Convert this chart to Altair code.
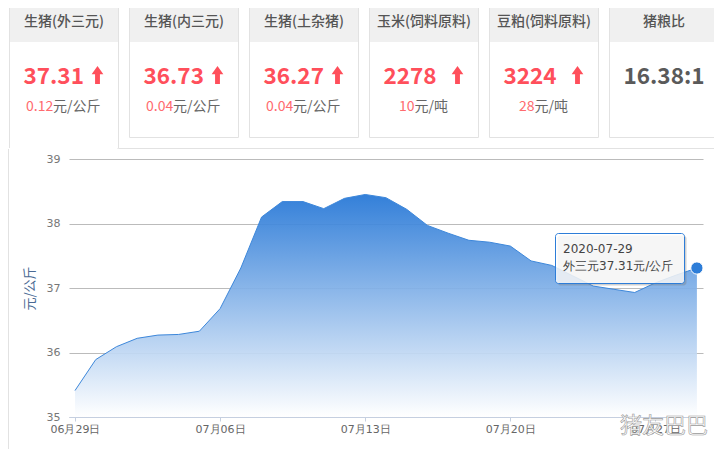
import altair as alt
import pandas as pd

FONT = "Noto Sans CJK SC"
dates = ["06-29","06-30","07-01","07-02","07-03","07-04","07-05","07-06","07-07","07-08","07-09","07-10",
         "07-11","07-12","07-13","07-14","07-15","07-16","07-17","07-18","07-19","07-20","07-21","07-22",
         "07-23","07-24","07-25","07-26","07-27","07-28","07-29"]
prices = [35.41,35.89,36.09,36.22,36.27,36.28,36.33,36.68,37.31,38.10,38.34,38.34,
          38.23,38.39,38.45,38.40,38.22,37.97,37.85,37.74,37.71,37.65,37.42,37.35,
          37.19,37.03,36.98,36.93,37.08,37.20,37.31]
tick_labels = ["06月29日","07月06日","07月13日","07月20日","07月27日"]
card_titles = ["生猪(外三元)","生猪(内三元)","生猪(土杂猪)","玉米(饲料原料)","豆粕(饲料原料)","猪粮比"]
card_values = ["37.31","36.73","36.27","2278","3224","16.38:1"]
card_changes = ["0.12","0.04","0.04","10","28",""]
card_units = ["元/公斤","元/公斤","元/公斤","元/吨","元/吨",""]
tooltip_lines = ["2020-07-29","外三元37.31元/公斤"]
watermark = "猪友巴巴"

OX, OY = 69, 159
one = alt.Data(values=[{"a": 1}])

def px(v): return alt.value(v - OX)
def py(v): return alt.value(v - OY)

def text(s, x, y, size, color, align="left", weight="normal", font=FONT, **kw):
    return alt.Chart(one).mark_text(text=s, font=font, fontSize=size, color=color, align=align,
                                    baseline="middle", fontWeight=weight, **kw).encode(x=px(x), y=py(y))

def rect(x0, x1, y0, y1, **kw):
    return alt.Chart(one).mark_rect(**kw).encode(x=px(x0), x2=px(x1), y=py(y0), y2=py(y1))

def hline(x0, x1, y, color="#e2e2e2"):
    return alt.Chart(one).mark_rule(color=color, strokeWidth=1).encode(x=px(x0), x2=px(x1), y=py(y))

def vline(x, y0, y1, color="#e2e2e2"):
    return alt.Chart(one).mark_rule(color=color, strokeWidth=1).encode(x=px(x), y=py(y0), y2=py(y1))

ARROW = "M0,-1 L0.65,-0.08 L0.27,-0.08 L0.27,1 L-0.27,1 L-0.27,-0.08 L-0.65,-0.08 Z"
RED, GREY = "#ff4f5b", "#5a5a5a"

layers = []
layers += [hline(118.5, 722, 148.5), vline(8.5, 149, 451)]

for i, t in enumerate(card_titles):
    left = 9.5 + 120 * i
    right = left + 109
    bottom = 148.5 if i == 0 else 137.5
    cx = left + 54.5
    layers.append(rect(left, right, -2, bottom, fill="white", stroke="#e2e2e2", strokeWidth=1))
    if i == 0:
        layers.append(hline(left - 0.5, right - 1, 148.5, "#ffffff"))
    layers.append(rect(left + 0.5, right - 0.5, -2, 42, fill="#f0f0f0"))
    layers.append(text(t, cx, 22, 14, "#555555", "center", 500))
    if i < 5:
        layers.append(text(card_values[i], left + 14, 77, 22.5, RED, "left", "bold"))
        layers.append(alt.Chart(one).mark_point(shape=ARROW, filled=True, fill=RED, opacity=1, size=324, strokeWidth=0)
                      .encode(x=px(left + 88), y=py(75)))
        if i < 3:
            layers.append(text(card_changes[i], left + 16.5, 107, 14, "#ff6b6f"))
            layers.append(text(card_units[i], left + 43.5, 107, 14, "#666666"))
        else:
            layers.append(text(card_changes[i], left + 29.5, 107, 14, "#ff6b6f"))
            layers.append(text(card_units[i], left + 45, 107, 14, "#666666"))
    else:
        layers.append(text(card_values[i], cx, 77, 22.5, GREY, "center", "bold"))

df = pd.DataFrame({"idx": range(len(dates)), "date": dates, "price": prices})
x_enc = alt.X("idx:Q",
              scale=alt.Scale(domain=[-0.289, 30.294], nice=False, zero=False),
              axis=alt.Axis(values=[0, 7, 14, 21, 28], title=None, grid=False,
                            labelExpr="['" + "','".join(tick_labels) + "'][datum.value/7]",
                            labelFont="DejaVu Sans", labelFontSize=11, labelColor="#666666", labelPadding=2,
                            labelFlush=False, labelOverlap=False,
                            domainColor="#c5cfe0", tickColor="#c5cfe0", tickSize=4))
y_enc = alt.Y("price:Q",
              scale=alt.Scale(domain=[35, 39], nice=False, zero=False),
              axis=alt.Axis(values=[35, 36, 37, 38, 39], title="元/公斤", grid=True, gridColor="#bbbbbb", gridWidth=1,
                            domain=False, ticks=False, labelPadding=9, labelFont="DejaVu Sans", labelFontSize=11,
                            labelColor="#777777", titleFont=FONT, titleFontSize=13, titleFontWeight="normal",
                            titleColor="#4a6a94", titleX=-33, titleY=129))

gradient = alt.Gradient(gradient="linear", x1=1, x2=1, y1=1, y2=0,
                        stops=[alt.GradientStop(color="#ffffff", offset=0),
                               alt.GradientStop(color="#2476d6", offset=1)])
base = alt.Chart(df)
area = base.mark_area(fill=gradient, opacity=0.93, line=False).encode(x=x_enc, y=y_enc, y2=alt.Y2(datum=35))
line = base.mark_line(color="#3d87da", strokeWidth=1).encode(x=x_enc, y=y_enc)
last = base.transform_filter("datum.idx == 30").mark_point(filled=True, fill="#2d7dd8", stroke="white", strokeWidth=1,
                                                            opacity=1, size=150).encode(x=x_enc, y=y_enc)
layers = [area, line, last] + layers

layers.append(rect(557.5, 686.5, 235.5, 285.5, fill="#777777", opacity=0.35, cornerRadius=3))
layers.append(rect(555.5, 684.5, 233.5, 283.5, fill="white", fillOpacity=0.8, stroke="#2d7dd8", strokeWidth=1, cornerRadius=3))
layers.append(text(tooltip_lines[0], 563, 249, 12, "#444444", font="DejaVu Sans"))
layers.append(text(tooltip_lines[1], 563, 266, 12, "#444444", font="DejaVu Sans"))
layers.append(text(watermark, 620, 426, 22, "#ffffff", stroke="#9a9a9a", strokeWidth=0.6))

chart = alt.layer(*layers).properties(
    width=634, height=258,
    padding={"left": 61, "top": 151, "right": 11, "bottom": 32},
    autosize=alt.AutoSizeParams(type="none"),
    background="white",
).configure_view(stroke=None)

chart.save("out.html", embed_options={"renderer": "svg", "actions": False})
